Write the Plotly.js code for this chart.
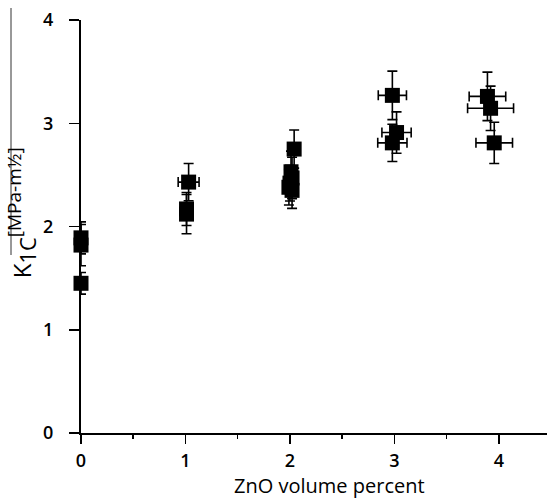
<!DOCTYPE html>
<html>
<head>
<meta charset="utf-8">
<script src="https://cdn.plot.ly/plotly-3.0.1.min.js"></script>
<style>html,body{margin:0;padding:0;background:#fff;}#chart{width:547px;height:499px;}</style>
</head>
<body>
<div id="chart"></div>
<script>
// ZnO volume percent (x), K1C fracture toughness (y), with error bars
var znoPercent = [0, 0, 0, 1.03, 1.01, 1.01, 2.04, 2.01, 2.02, 2.00, 1.99, 2.02, 2.98, 3.02, 2.98, 3.89, 3.92, 3.955];
var k1c        = [1.89, 1.82, 1.45, 2.43, 2.17, 2.12, 2.75, 2.53, 2.47, 2.42, 2.38, 2.35, 3.27, 2.91, 2.81, 3.26, 3.145, 2.81];
var znoError   = [0, 0, 0, 0.1, 0, 0, 0, 0, 0, 0, 0, 0, 0.135, 0.14, 0.14, 0.175, 0.22, 0.175];
var k1cError   = [0.155, 0.2, 0.105, 0.18, 0.16, 0.19, 0.185, 0.2, 0.2, 0.173, 0.172, 0.174, 0.235, 0.2, 0.18, 0.235, 0.215, 0.2];
var xTickValues = [0, 1, 2, 3, 4];
var yTickValues = [0, 1, 2, 3, 4];

var fontFamily = '"Open Sans", "Liberation Sans", sans-serif';

var trace = {
  x: znoPercent,
  y: k1c,
  type: 'scatter',
  mode: 'markers',
  marker: {symbol: 'square', size: 15, color: '#000'},
  error_y: {type: 'data', array: k1cError, visible: true, color: '#000', thickness: 1.6, width: 5},
  error_x: {type: 'data', array: znoError, visible: true, color: '#000', thickness: 1.6, width: 5},
  cliponaxis: false,
  hoverinfo: 'x+y'
};

var layout = {
  width: 547,
  height: 499,
  margin: {l: 81, r: 0, t: 20, b: 66},
  paper_bgcolor: '#fff',
  plot_bgcolor: '#fff',
  showlegend: false,
  font: {family: fontFamily, color: '#000'},
  xaxis: {
    range: [0, 4.46],
    tickvals: xTickValues,
    ticktext: xTickValues.map(String),
    showgrid: false,
    zeroline: false,
    showline: true,
    linecolor: '#000',
    linewidth: 2,
    ticks: 'outside',
    ticklen: 9,
    tickwidth: 1.5,
    tickcolor: '#000',
    minor: {dtick: 0.5, ticks: 'outside', ticklen: 4, tickwidth: 1.5, tickcolor: '#000'},
    tickfont: {family: fontFamily, size: 18, weight: 600, color: '#000'},
    ticklabelstandoff: 1
  },
  yaxis: {
    range: [0, 4],
    tickvals: yTickValues,
    ticktext: yTickValues.map(String),
    showgrid: false,
    zeroline: false,
    showline: true,
    linecolor: '#000',
    linewidth: 2,
    ticks: 'outside',
    ticklen: 10,
    tickwidth: 1.5,
    tickcolor: '#000',
    tickfont: {family: fontFamily, size: 18, weight: 600, color: '#000'},
    ticklabelstandoff: 12
  },
  annotations: [
    {
      text: 'ZnO volume percent',
      xref: 'paper', yref: 'paper',
      x: (329 - 81) / 466, y: (433 - 485) / 413,
      xanchor: 'center', yanchor: 'middle',
      showarrow: false,
      font: {family: fontFamily, size: 20, color: '#000'}
    },
    {
      text: 'K<sub><span style="font-size:22px">1C</span></sub><sup><span style="font-size:19px">[MPa-m½]</span></sup>',
      xref: 'paper', yref: 'paper',
      x: -0.128, y: (433 - 213) / 413,
      xanchor: 'center', yanchor: 'middle',
      textangle: -90,
      showarrow: false,
      font: {family: fontFamily, size: 24, color: '#000'}
    }
  ],
  shapes: [
    {
      type: 'line', xref: 'paper', yref: 'paper',
      x0: (11 - 81) / 466, x1: (11 - 81) / 466,
      y0: (433 - 8) / 413, y1: (433 - 255) / 413,
      line: {color: '#333', width: 1}
    }
  ]
};

Plotly.newPlot('chart', [trace], layout, {displayModeBar: false, staticPlot: true});
</script>
</body>
</html>
